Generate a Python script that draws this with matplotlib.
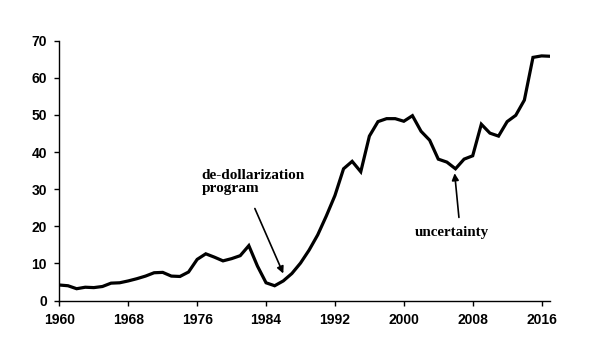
import matplotlib
matplotlib.use("Agg")
import matplotlib.pyplot as plt

# values, one per year
years = list(range(1960, 2018))
values = [4.2, 4.0, 3.2, 3.6, 3.5, 3.8, 4.7, 4.8, 5.3, 5.9,
          6.6, 7.5, 7.6, 6.6, 6.5, 7.7, 11.1, 12.6, 11.7, 10.7,
          11.3, 12.1, 14.8, 9.3, 4.8, 4.0, 5.3, 7.3, 10.1, 13.6,
          17.7, 22.8, 28.3, 35.5, 37.5, 34.7, 44.3, 48.2, 49.0, 49.0,
          48.3, 49.8, 45.6, 43.2, 38.1, 37.3, 35.5, 38.1, 39.0, 47.5,
          45.1, 44.3, 48.2, 49.9, 54.0, 65.5, 65.9, 65.8]

xticks = [1960, 1968, 1976, 1984, 1992, 2000, 2008, 2016]
yticks = [0, 10, 20, 30, 40, 50, 60, 70]

fig = plt.figure(figsize=(6, 3.6), dpi=100)
ax = fig.add_axes([0.099, 0.165, 0.818, 0.722])

ax.plot(years, values, color='black', linewidth=2.3, solid_joinstyle='miter')

ax.set_xlim(1960, 2017)
ax.set_ylim(0, 70)
ax.set_xticks(xticks)
ax.set_yticks(yticks)

for s in ['top', 'right']:
    ax.spines[s].set_visible(False)
for s in ['left', 'bottom']:
    ax.spines[s].set_linewidth(1.0)

ax.tick_params(direction='out', length=3.5, width=1.0, pad=5.5)
for lab in ax.get_xticklabels() + ax.get_yticklabels():
    lab.set_fontfamily('Liberation Sans')
    lab.set_fontweight('bold')
    lab.set_fontsize(10)

arrow = dict(arrowstyle='-|>', color='black', lw=1.2, mutation_scale=10,
             shrinkA=0, shrinkB=0)
ax.text(1976.5, 35.5, 'de-dollarization\nprogram', ha='left', va='top',
        fontsize=11, fontweight='bold', family='Liberation Serif', linespacing=1.0)
ax.annotate('', xy=(1986.0, 7.3), xytext=(1982.7, 24.8), arrowprops=arrow)

ax.text(2005.6, 18.4, 'uncertainty', ha='center', va='center', fontsize=10.8,
        fontweight='bold', family='Liberation Serif')
ax.annotate('', xy=(2005.9, 34.3), xytext=(2006.4, 22.4), arrowprops=arrow)

fig.savefig('out.png', dpi=100)
